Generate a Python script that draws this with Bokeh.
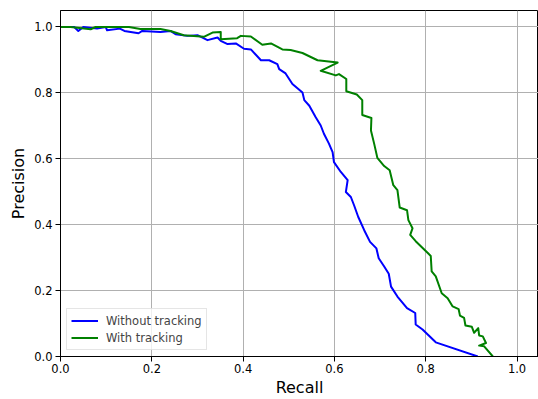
from bokeh.plotting import figure
from bokeh.models import Range1d, FixedTicker, PrintfTickFormatter, Legend, LegendItem
from bokeh.embed import file_html
from bokeh.resources import INLINE

# Data
recall_without = [0.0, 0.03, 0.039, 0.05, 0.08, 0.099, 0.102, 0.13, 0.14, 0.171, 0.179, 0.219, 0.241, 0.252,
                  0.278, 0.3, 0.322, 0.344, 0.351, 0.366, 0.384, 0.402, 0.417, 0.439, 0.457, 0.475, 0.479,
                  0.493, 0.508, 0.53, 0.534, 0.545, 0.559, 0.57, 0.577, 0.588, 0.596, 0.599, 0.614, 0.629,
                  0.625, 0.636, 0.643, 0.652, 0.665, 0.678, 0.692, 0.697, 0.709, 0.719, 0.724, 0.738, 0.759,
                  0.777, 0.778, 0.793, 0.822, 0.914]
precision_without = [1.0, 1.0, 0.988, 1.0, 0.995, 1.0, 0.99, 0.995, 0.988, 0.981, 0.988, 0.985, 0.988, 0.978,
                     0.973, 0.975, 0.96, 0.968, 0.958, 0.948, 0.95, 0.934, 0.932, 0.899, 0.899, 0.887, 0.872,
                     0.859, 0.827, 0.801, 0.778, 0.761, 0.726, 0.701, 0.676, 0.646, 0.62, 0.59, 0.56, 0.535,
                     0.499, 0.484, 0.459, 0.424, 0.384, 0.348, 0.328, 0.298, 0.273, 0.251, 0.212, 0.182, 0.147,
                     0.132, 0.097, 0.082, 0.043, 0.0]

recall_with = [0.0, 0.022, 0.066, 0.077, 0.15, 0.175, 0.219, 0.241, 0.27, 0.314, 0.333, 0.351, 0.351, 0.387,
               0.395, 0.417, 0.442, 0.461, 0.486, 0.504, 0.53, 0.563, 0.607, 0.57, 0.603, 0.61, 0.626, 0.626,
               0.649, 0.661, 0.661, 0.681, 0.68, 0.687, 0.694, 0.709, 0.721, 0.729, 0.738, 0.743, 0.759, 0.762,
               0.771, 0.766, 0.778, 0.804, 0.811, 0.813, 0.822, 0.835, 0.848, 0.859, 0.872, 0.875, 0.884, 0.887,
               0.901, 0.906, 0.915, 0.917, 0.925, 0.932, 0.917, 0.928, 0.947]
precision_with = [1.0, 1.0, 0.993, 1.0, 1.0, 0.994, 0.994, 0.988, 0.975, 0.97, 0.983, 0.985, 0.963, 0.966,
                  0.973, 0.971, 0.946, 0.95, 0.932, 0.93, 0.921, 0.899, 0.892, 0.867, 0.853, 0.857, 0.842, 0.805,
                  0.795, 0.778, 0.733, 0.724, 0.686, 0.646, 0.603, 0.578, 0.565, 0.52, 0.505, 0.452, 0.444, 0.414,
                  0.389, 0.369, 0.35, 0.315, 0.305, 0.258, 0.243, 0.192, 0.177, 0.152, 0.144, 0.124, 0.117, 0.094,
                  0.09, 0.072, 0.086, 0.064, 0.061, 0.041, 0.033, 0.031, 0.0]

x_ticks = [0.0, 0.2, 0.4, 0.6, 0.8, 1.0]
y_ticks = [0.0, 0.2, 0.4, 0.6, 0.8, 1.0]
series_labels = ["Without tracking", "With tracking"]

FONT = "DejaVu Sans"

p = figure(width=538, height=399, output_backend="svg", toolbar_location=None,
           x_range=Range1d(0, 1.047), y_range=Range1d(0, 1.05),
           min_border_left=60, min_border_right=0, min_border_top=10, min_border_bottom=42)

p.background_fill_color = "white"
p.border_fill_color = "white"
p.outline_line_color = "black"
p.outline_line_width = 1

for ax, ticks in ((p.xaxis[0], x_ticks), (p.yaxis[0], y_ticks)):
    ax.ticker = FixedTicker(ticks=ticks)
    ax.formatter = PrintfTickFormatter(format="%.1f")
    ax.major_tick_in = 0
    ax.major_tick_out = 5
    ax.minor_tick_line_color = None
    ax.major_tick_line_color = "black"
    ax.axis_line_color = "black"
    ax.major_label_text_font = FONT
    ax.major_label_text_font_size = "11.5px"
    ax.major_label_text_color = "black"
    ax.major_label_standoff = 3
    ax.axis_label_text_font = FONT
    ax.axis_label_text_font_size = "16px"
    ax.axis_label_text_font_style = "normal"
    ax.axis_label_text_color = "black"

p.xaxis[0].major_label_standoff = 2
p.xaxis[0].axis_label_standoff = 2
p.yaxis[0].axis_label_standoff = 3
p.xaxis.axis_label = "Recall"
p.yaxis.axis_label = "Precision"

p.xgrid.ticker = FixedTicker(ticks=x_ticks)
p.ygrid.ticker = FixedTicker(ticks=y_ticks)
for g in (p.xgrid[0], p.ygrid[0]):
    g.grid_line_color = "#b0b0b0"
    g.grid_line_width = 1

r1 = p.line(recall_without, precision_without, line_color="#0000ff", line_width=2, line_join="round")
r2 = p.line(recall_with, precision_with, line_color="#008000", line_width=2, line_join="round")

legend = Legend(items=[LegendItem(label=series_labels[0], renderers=[r1]),
                       LegendItem(label=series_labels[1], renderers=[r2])],
                location="bottom_left", margin=6, padding=4, spacing=2,
                glyph_width=27, glyph_height=15, label_height=15, label_standoff=8,
                label_text_font=FONT, label_text_font_size="11.5px",
                border_line_color="#cccccc", border_line_width=1,
                background_fill_color="white", background_fill_alpha=0.8)
p.add_layout(legend, "center")

open("out.html", "w").write(file_html(p, INLINE))
